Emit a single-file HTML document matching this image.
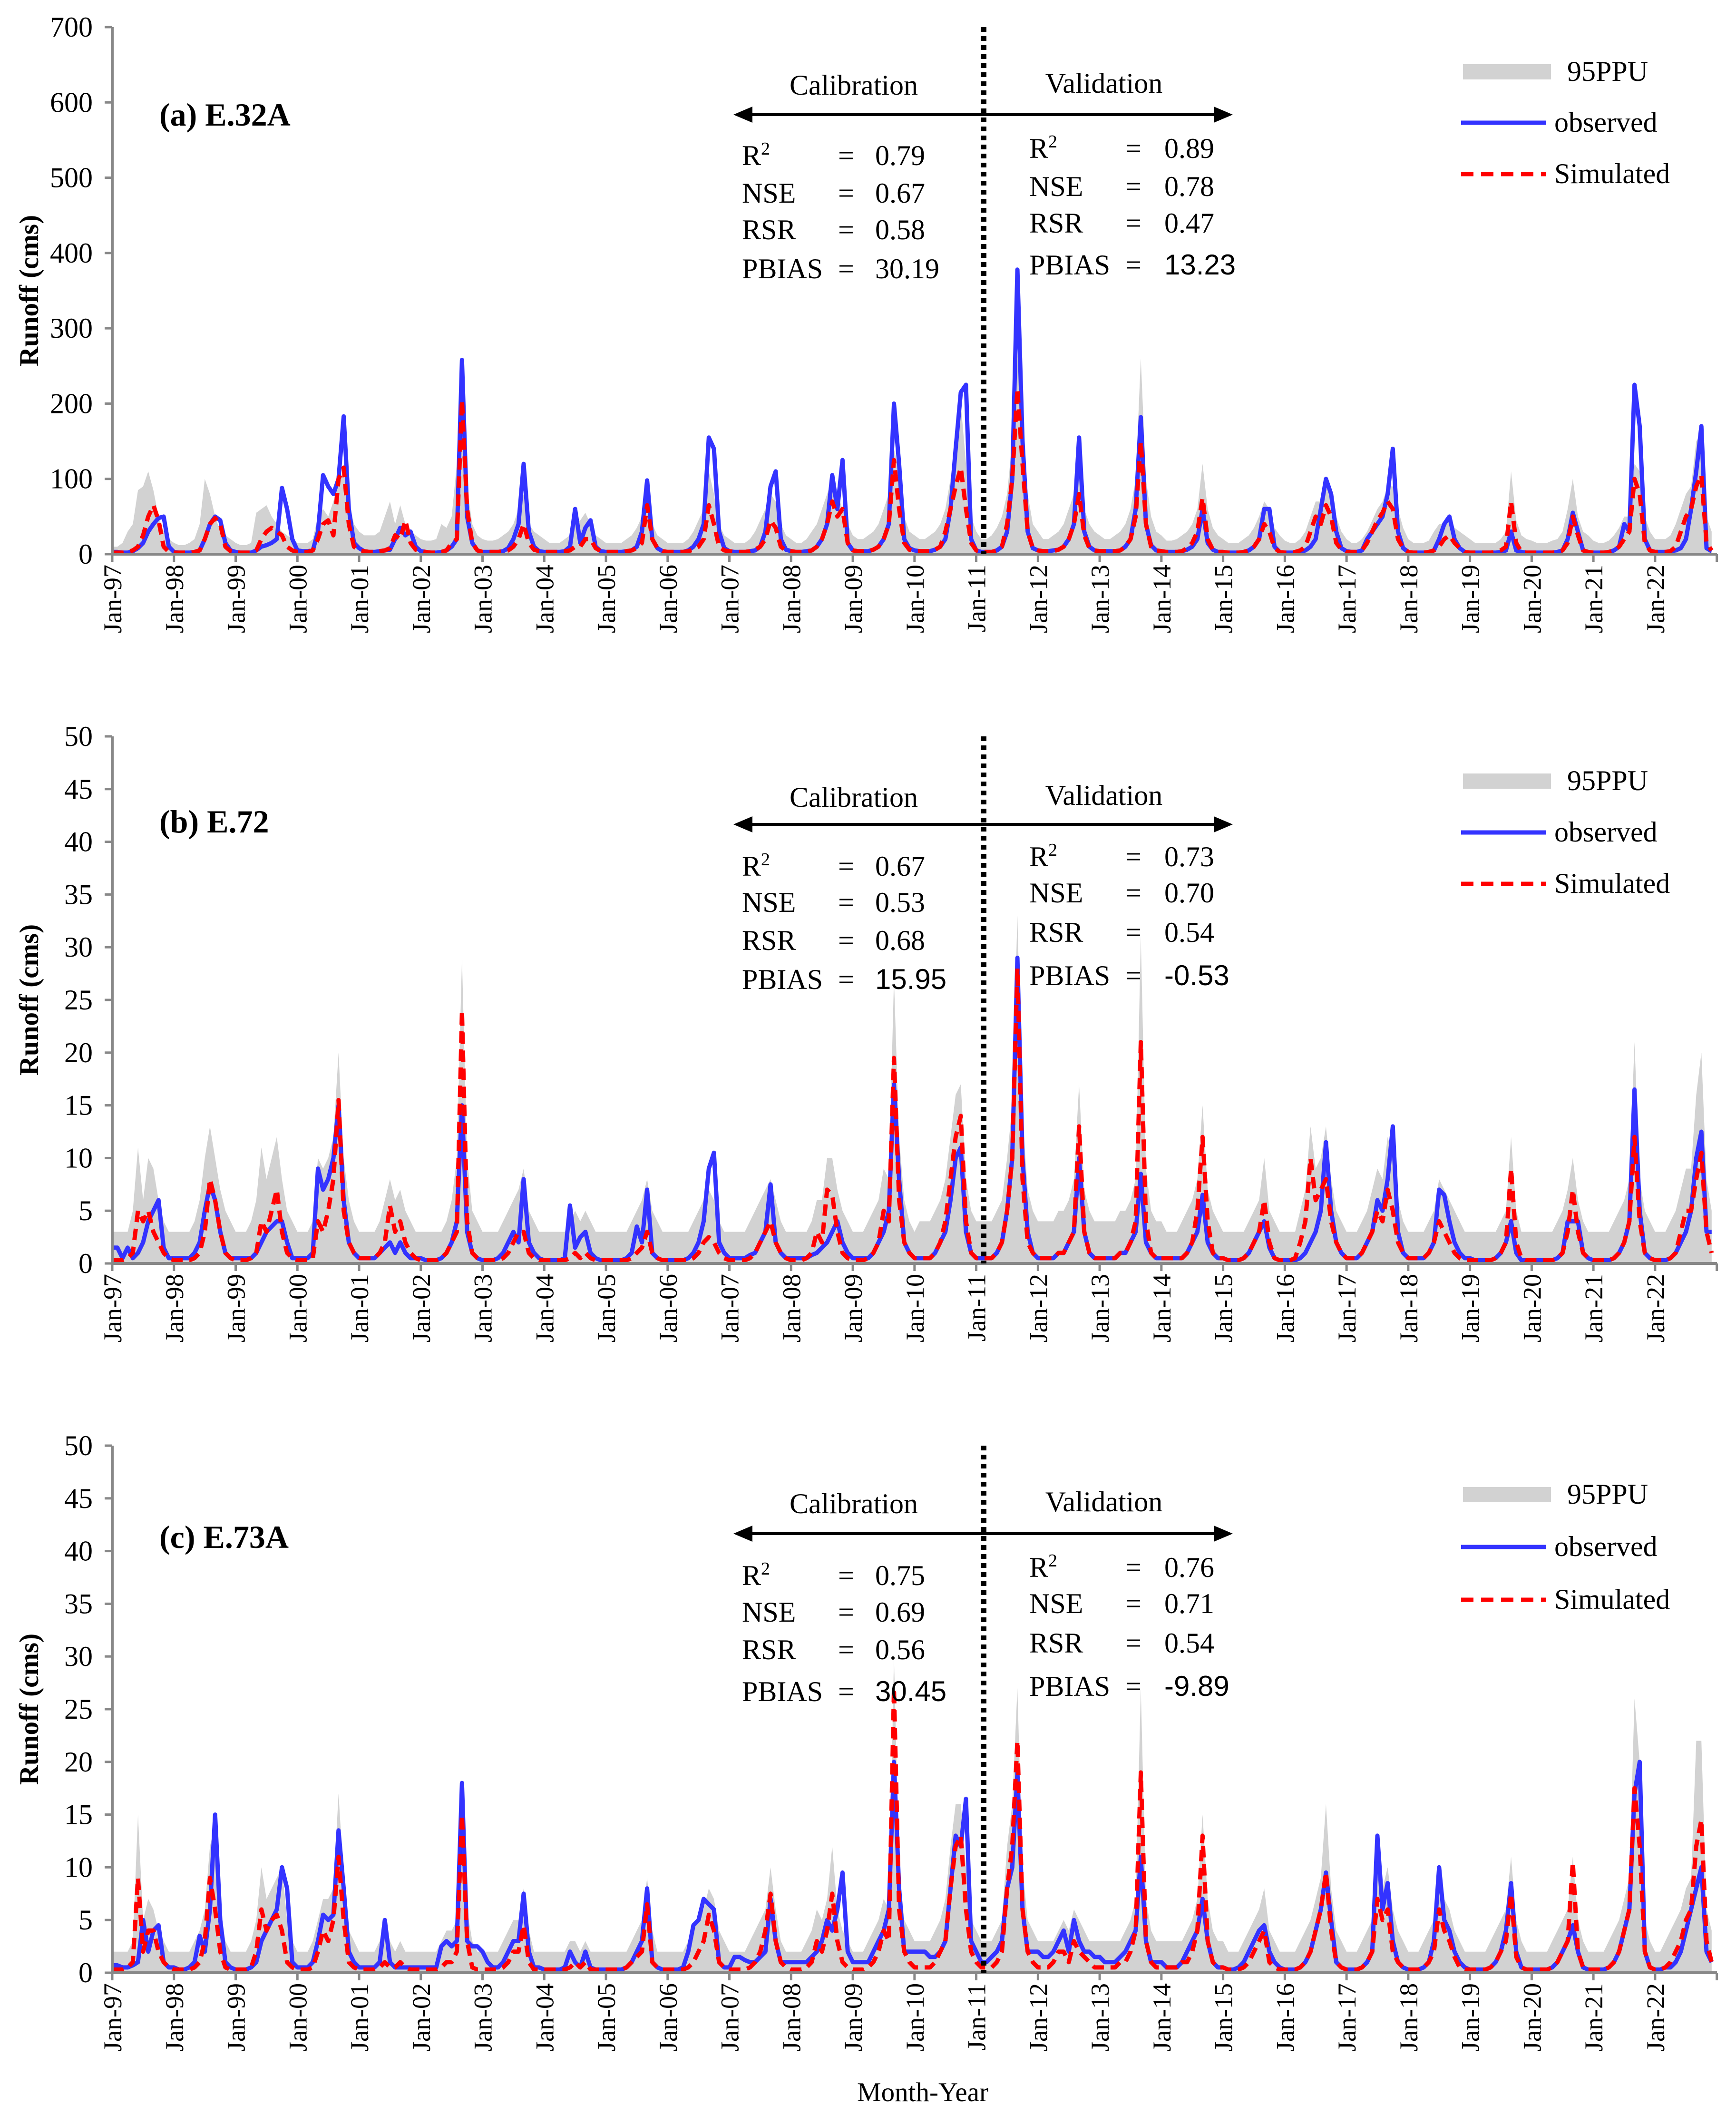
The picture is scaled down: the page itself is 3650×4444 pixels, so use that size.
<!DOCTYPE html>
<html><head><meta charset="utf-8"><style>
html,body{margin:0;padding:0;background:#fff}
svg{display:block}
text{font-family:"Liberation Serif",serif;fill:#000}
</style></head><body>
<svg id="chart" width="3650" height="4444" viewBox="0 0 3650 4444" xmlns="http://www.w3.org/2000/svg">
<text x="1940" y="4417" font-size="57" text-anchor="middle">Month-Year</text>
</svg>
<script>
// ---- data (monthly, Jan-97 .. Dec-22) ----
const yearLabels = ["Jan-97","Jan-98","Jan-99","Jan-00","Jan-01","Jan-02","Jan-03","Jan-04","Jan-05","Jan-06","Jan-07","Jan-08","Jan-09","Jan-10","Jan-11","Jan-12","Jan-13","Jan-14","Jan-15","Jan-16","Jan-17","Jan-18","Jan-19","Jan-20","Jan-21","Jan-22"];
const ticksA = [0,100,200,300,400,500,600,700];
const ticksB = [0,5,10,15,20,25,30,35,40,45,50];
const ticksC = [0,5,10,15,20,25,30,35,40,45,50];

const obsA = [3,
3,2,2,4,8,15,30,40,48,50,10,3, 2,2,2,3,5,20,40,50,45,15,5,3, 2,2,2,5,10,12,15,20,88,60,20,5,
4,4,5,30,105,90,80,100,183,60,15,8, 4,3,3,4,5,6,20,35,25,30,10,4, 3,2,2,3,5,10,20,258,50,15,5,3,
3,3,3,4,8,20,40,120,30,10,4,3, 3,3,3,4,10,60,15,35,45,10,4,3, 3,3,3,4,5,10,30,98,20,8,4,3,
3,3,3,5,10,20,40,155,140,30,8,4, 3,3,3,4,5,10,30,90,110,20,6,4, 3,3,4,5,10,20,40,105,60,125,15,5,
4,4,4,6,10,20,40,200,120,20,8,5, 4,4,4,6,10,20,60,140,215,225,20,5, 3,3,3,5,10,30,100,378,150,30,8,5,
4,4,5,6,10,20,40,155,30,10,5,4, 4,4,4,5,10,20,60,182,40,12,5,4, 3,3,3,4,6,10,20,60,15,6,3,3,
2,2,2,3,5,10,20,60,60,10,3,2, 2,2,3,5,10,20,60,100,80,30,8,4, 3,3,5,20,30,40,50,80,140,30,8,3,
2,2,2,3,5,20,40,50,20,8,3,2, 2,2,2,2,2,3,5,30,5,3,2,2, 2,2,2,2,3,5,20,55,30,5,3,2,
2,2,3,5,10,40,30,225,170,20,5,3, 3,3,4,5,8,20,60,110,170,8,4];
const simA = [2,
2,2,3,5,10,25,50,65,45,10,3,2, 2,2,2,3,5,20,40,48,40,10,4,2, 2,2,2,5,20,30,35,30,25,10,5,3,
3,3,5,20,40,45,25,100,115,40,10,5, 4,3,3,4,5,8,25,20,45,15,6,4, 3,2,2,3,5,15,20,205,60,15,5,3,
3,3,3,4,5,10,20,40,15,6,4,3, 3,3,3,4,5,10,10,20,20,8,4,3, 3,3,3,4,5,8,15,65,20,8,4,3,
3,3,3,4,6,10,20,65,40,10,5,4, 3,3,3,4,6,10,20,45,35,10,5,4, 3,3,3,5,10,20,40,70,50,60,15,5,
4,4,4,6,10,20,40,125,60,15,6,4, 4,4,4,6,10,30,60,90,115,60,15,5, 3,3,3,5,10,40,100,220,120,30,8,5,
4,4,4,6,10,20,40,80,25,8,5,4, 4,4,4,5,10,20,50,150,40,10,5,4, 3,3,3,4,8,15,30,75,20,6,3,3,
2,2,2,3,5,10,20,40,30,8,3,2, 2,3,5,10,30,50,40,65,50,15,6,3, 3,3,5,15,30,45,55,70,60,20,8,3,
2,2,2,3,5,10,20,25,15,8,3,2, 2,2,2,2,3,5,10,70,15,3,2,2, 2,2,2,2,3,5,15,50,25,5,3,2,
2,2,3,5,10,20,30,100,80,15,5,3, 3,3,4,10,30,50,60,90,105,15,5];
const upperA = [10,
10,15,30,40,85,90,110,85,50,30,20,15, 12,12,15,20,40,100,80,50,30,25,20,15, 12,12,15,55,60,65,50,40,30,25,20,15,
15,15,20,50,60,50,70,100,110,70,40,30, 25,25,25,30,50,70,40,65,40,30,25,20, 18,18,20,40,35,50,120,200,90,40,25,20,
18,18,20,25,30,40,60,80,40,30,25,20, 15,15,15,20,25,40,45,55,40,25,20,15, 15,15,15,20,25,35,50,95,40,25,20,15,
15,15,15,20,30,45,60,110,80,40,25,20, 15,15,15,20,30,45,60,80,70,40,25,20, 15,15,20,30,40,60,80,100,80,60,40,25,
20,20,25,30,40,60,80,140,110,50,30,25, 20,20,25,30,40,60,100,150,200,120,50,30, 20,20,25,35,50,80,150,270,180,80,40,30,
20,20,25,30,40,60,80,120,60,40,30,25, 20,20,25,30,40,60,100,260,100,50,30,25, 18,18,20,25,30,40,60,120,60,35,25,20,
15,15,15,20,25,35,50,70,60,35,25,18, 15,15,20,30,50,70,70,90,80,50,30,20, 15,15,20,30,45,60,70,90,90,60,35,20,
15,15,15,18,30,40,40,45,35,30,25,20, 15,15,15,15,15,20,30,110,45,25,20,18, 15,15,15,18,20,30,60,100,50,30,25,18,
15,15,18,25,35,50,50,120,110,50,30,20, 20,20,25,40,60,80,90,150,160,50,30];

const obsB = [1.5,
1.5,0.5,1.5,0.5,1,2,4,5,6,1.5,0.5,0.5, 0.5,0.5,0.5,1,2,5,7.5,6,3,1,0.5,0.5, 0.5,0.5,0.5,1,2,3,3.5,4,4,2,0.5,0.5,
0.5,0.5,1,9,7,8,10,15,6,2,1,0.5, 0.5,0.5,0.5,1,1.5,2,1,2,1,0.5,0.5,0.5, 0.3,0.3,0.3,0.5,1,2,4,15,3,1,0.5,0.3,
0.3,0.3,0.5,1,2,3,2,8,2,1,0.5,0.3, 0.3,0.3,0.3,0.5,5.5,1.5,2.5,3,1,0.5,0.3,0.3, 0.3,0.3,0.3,0.5,1,3.5,2,7,1,0.5,0.3,0.3,
0.3,0.3,0.3,0.5,1,2,4,9,10.5,2,1,0.5, 0.5,0.5,0.5,0.8,1,2,3,7.5,2,1,0.5,0.5, 0.5,0.5,0.5,0.8,1,1.5,2,3,4,2,1,0.5,
0.5,0.5,0.5,1,2,3,5,17,8,2,1,0.5, 0.5,0.5,0.5,1,2,3,6,10,11,3,1,0.5, 0.5,0.5,0.5,1,2,5,10,29,10,3,1,0.5,
0.5,0.5,0.5,1,1,2,3,10,3,1,0.5,0.5, 0.5,0.5,0.5,1,1,2,3,8.5,2,1,0.5,0.5, 0.5,0.5,0.5,0.5,1,2,3,6.5,2,1,0.5,0.5,
0.3,0.3,0.3,0.5,1,2,3,4,1.5,0.5,0.3,0.3, 0.3,0.3,0.5,1,2,3,5,11.5,5,2,1,0.5, 0.5,0.5,1,2,3,6,5,8,13,3,1,0.5,
0.5,0.5,0.5,1,2,7,6.5,4,2,1,0.5,0.5, 0.3,0.3,0.3,0.3,0.5,1,2,4,1,0.3,0.3,0.3, 0.3,0.3,0.3,0.3,0.5,1,4,4,4,1,0.5,0.3,
0.3,0.3,0.3,0.5,1,2,4,16.5,5,1,0.5,0.3, 0.3,0.3,0.5,1,2,3,5,10,12.5,3,3];
const simB = [0.3,
0.3,0.3,0.5,1,5,4,5,3,2,1,0.5,0.3, 0.3,0.3,0.3,0.5,1,3,8,6,3,1,0.5,0.3, 0.3,0.3,0.5,1,4,3,5,7,3,1,0.5,0.3,
0.3,0.3,0.5,4,3,5,8,15.5,5,2,1,0.5, 0.5,0.5,0.5,1,2,5.5,3,4,2,1,0.5,0.3, 0.3,0.3,0.3,0.5,1,2,3,24,4,1,0.5,0.3,
0.3,0.3,0.3,0.5,1,2,3,3,1,0.5,0.3,0.3, 0.3,0.3,0.3,0.3,0.5,1,0.5,1,0.5,0.3,0.3,0.3, 0.3,0.3,0.3,0.3,0.5,1,1.5,3,1,0.5,0.3,0.3,
0.3,0.3,0.3,0.3,0.5,1,2,2.5,2,1,0.5,0.3, 0.3,0.3,0.3,0.5,1,2,3,4,2,1,0.5,0.3, 0.3,0.3,0.5,1,3,2,7,6.5,3,1,0.5,0.3,
0.3,0.3,0.5,1,2,5,4,19.5,6,2,1,0.5, 0.5,0.5,0.5,1,2,4,8,12,14,4,1,0.5, 0.5,0.5,0.5,1,2,5,10,28,8,2,1,0.5,
0.5,0.5,0.5,1,1,2,3,13,3,1,0.5,0.5, 0.5,0.5,0.5,1,1,2,4,21,4,1,0.5,0.5, 0.5,0.5,0.5,0.5,1,2,5,12,4,1,0.5,0.5,
0.3,0.3,0.3,0.5,1,2,3,6,2,0.5,0.3,0.3, 0.3,0.5,2,4,10,6,7,8,4,2,1,0.5, 0.5,0.5,1,2,3,5,4,7,5,2,1,0.5,
0.5,0.5,0.5,1,2,4,3,2,1,0.5,0.3,0.3, 0.3,0.3,0.3,0.3,0.5,1,2,9,2,0.5,0.3,0.3, 0.3,0.3,0.3,0.3,0.5,1,3,7,3,1,0.5,0.3,
0.3,0.3,0.3,0.5,1,2,4,12,4,1,0.5,0.3, 0.3,0.3,0.5,1,3,5,5,8,10.5,3,1];
const upperB = [3,
3,3,3,5,11,6,10,9,6,4,3,3, 3,3,3,4,6,10,13,10,7,5,4,3, 3,3,4,6,11,8,10,12,8,5,4,3,
3,3,4,10,9,10,12,20,10,6,4,3, 3,3,3,4,6,8,6,7,5,4,3,3, 3,3,3,3,4,6,10,29,10,5,4,3,
3,3,3,4,5,6,7,9,5,4,3,3, 3,3,3,3,4,5,4,5,4,3,3,3, 3,3,3,3,4,5,6,8,5,4,3,3,
3,3,3,3,4,5,6,7,6,4,3,3, 3,3,3,4,5,6,7,8,6,4,3,3, 3,3,3,4,6,6,10,10,7,5,4,3,
3,3,4,5,6,9,8,27,12,6,4,3, 4,4,4,5,6,8,12,16,17,8,5,4, 4,4,4,5,6,10,15,33,14,7,5,4,
4,4,4,5,5,6,8,17,7,5,4,4, 4,4,4,5,5,6,8,31,9,5,4,4, 3,3,3,4,5,6,8,15,7,5,4,3,
3,3,3,3,4,5,6,10,5,4,3,3, 3,3,5,7,13,9,10,13,8,5,4,3, 3,3,4,5,7,9,8,12,10,6,4,3,
3,3,3,4,5,8,7,6,5,4,3,3, 3,3,3,3,3,4,5,12,5,3,3,3, 3,3,3,3,4,5,7,10,6,4,3,3,
3,3,3,4,5,6,8,21,8,5,4,3, 3,3,4,5,7,9,9,16,20,8,5];

const obsC = [0.7,
0.7,0.5,0.5,0.7,1,5,2,4,4.5,1,0.5,0.5, 0.3,0.3,0.5,1,3.5,2,6,15,5,1,0.5,0.3, 0.3,0.3,0.5,1,3,4,5,6,10,8,1,0.5,
0.5,0.5,1,3,5.5,5,5.5,13.5,8,2,1,0.5, 0.5,0.5,0.5,1,5,1,0.5,0.5,0.5,0.5,0.5,0.5, 0.5,0.5,0.5,2.5,3,2.5,3,18,3,2.5,2.5,2,
1,0.5,0.5,1,2,3,3,7.5,2,0.5,0.5,0.3, 0.3,0.3,0.3,0.5,2,1,0.5,2,0.5,0.3,0.3,0.3, 0.3,0.3,0.3,0.5,1,2,3,8,1,0.5,0.3,0.3,
0.3,0.3,0.5,2,4.5,5,7,6.5,6,1,0.5,0.5, 1.5,1.5,1.2,1,1,1.5,2,7,3,1,1,1, 1,1,1,1.5,2,3,5,4,6,9.5,2,1,
1,1,1,2,3,4,6,20,8,2,2,2, 2,2,1.5,1.5,2,3,8,13,12,16.5,3,2, 1,1,1.5,2,3,8,10,19,6,2,2,2,
1.5,1.5,2,3,4,2,5,3,2,2,1.5,1.5, 1,1,1,1.5,2,3,4,11,3,1,1,1, 0.5,0.5,0.5,1,2,3,4,7,3,1,0.5,0.5,
0.3,0.3,0.5,1,2,3,4,4.5,2,1,0.5,0.3, 0.3,0.3,0.5,1,2,4,6,9.5,5,1,0.5,0.3, 0.3,0.3,0.5,1,2,13,6,8.5,3,1,0.5,0.3,
0.3,0.3,0.5,1,3,10,5,4,2,1,0.5,0.3, 0.3,0.3,0.3,0.5,1,2,4,8.5,2,0.5,0.3,0.3, 0.3,0.3,0.3,0.5,1,2,3,4.5,2,0.5,0.3,0.3,
0.3,0.3,0.5,1,2,4,6,17,20,2,0.5,0.3, 0.3,0.5,0.5,1,2,4,6,8,10,2,1];
const simC = [0.3,
0.3,0.3,0.5,1,9,2,4,4,2,1,0.5,0.3, 0.3,0.3,0.3,0.5,1,3,9,6,2,0.5,0.3,0.3, 0.3,0.3,0.5,2,6,4,5,5.5,4,1,0.5,0.3,
0.3,0.3,0.5,2,4,3,5,11,5,1,0.5,0.3, 0.3,0.3,0.3,0.5,1,0.5,0.5,1,0.5,0.3,0.3,0.3, 0.3,0.3,0.3,0.5,1,1,2,15,3,0.5,0.3,0.3,
0.3,0.3,0.3,0.5,1,2,2,4.5,1,0.3,0.3,0.3, 0.3,0.3,0.3,0.3,0.5,1,0.5,1,0.3,0.3,0.3,0.3, 0.3,0.3,0.3,0.5,1,1.5,2,6.5,1,0.5,0.3,0.3,
0.3,0.3,0.3,0.5,1,2,3,5.5,4,1,0.5,0.3, 0.3,0.3,0.3,0.5,1,2,4,7.5,3,1,0.5,0.3, 0.3,0.3,0.5,1,3,2,4,7.5,3,1,0.5,0.3,
0.3,0.3,0.5,1,2,4,3,27,6,2,1,0.5, 0.5,0.5,0.5,1,2,3,8,12,13,6,2,1, 0.5,0.5,0.5,1,2,8,12,22,6,2,1,0.5,
0.5,0.5,1,2,2,1,3,2,1.5,1,0.5,0.5, 0.5,0.5,0.5,1,1,2,4,19,3,1,0.5,0.5, 0.5,0.5,0.5,1,1,2,4,13,3,1,0.5,0.5,
0.3,0.3,0.3,0.5,1,2,3,4,1,0.5,0.3,0.3, 0.3,0.3,0.5,1,2,4,6,9.5,4,1,0.5,0.3, 0.3,0.3,0.5,1,2,7,5,6,2,1,0.5,0.3,
0.3,0.3,0.5,1,2,6,4,3,1.5,0.5,0.3,0.3, 0.3,0.3,0.3,0.5,1,2,3,7.5,1.5,0.5,0.3,0.3, 0.3,0.3,0.3,0.5,1,2,3,10.5,2,0.5,0.3,0.3,
0.3,0.3,0.5,1,2,4,6,17.5,12,2,0.5,0.3, 0.3,0.5,1,2,3,5,6,12,14.5,3,1];
const upperC = [2,
2,2,2,3,15,5,7,6,4,3,2,2, 2,2,2,3,4,6,12,14,6,3,2,2, 2,2,3,5,10,7,8,9,10,5,3,2,
2,2,3,5,7,7,8,17,9,4,3,2, 2,2,2,3,5,3,2,3,2,2,2,2, 2,2,2,3,4,4,5,17,6,3,2,2,
2,2,2,3,4,5,5,8,4,2,2,2, 2,2,2,2,3,3,2,3,2,2,2,2, 2,2,2,2,3,4,5,9,4,2,2,2,
2,2,2,3,4,5,6,8,7,4,3,2, 2,2,2,3,4,5,6,10,6,3,2,2, 2,2,3,4,6,5,7,12,6,4,3,2,
2,2,3,4,5,7,6,30,10,5,4,3, 3,3,3,4,5,7,12,16,16,10,5,4, 3,3,3,4,5,12,16,27,10,5,4,3,
3,3,3,4,5,4,6,5,4,3,3,3, 3,3,3,3,4,5,7,27,7,4,3,3, 3,3,3,3,4,5,7,15,7,4,3,3,
2,2,2,3,4,5,6,8,4,3,2,2, 2,2,3,4,5,7,9,16,8,4,3,2, 2,2,3,4,5,10,8,10,6,4,3,2,
2,2,3,4,5,9,7,6,4,3,2,2, 2,2,2,3,4,5,6,11,5,3,2,2, 2,2,2,3,4,5,6,11,5,3,2,2,
2,2,3,4,5,7,9,26,20,5,3,2, 2,3,4,5,6,8,9,22,22,6,4];

const statsA = [["R²","0.79","0.89"],["NSE","0.67","0.78"],["RSR","0.58","0.47"],["PBIAS","30.19","13.23"]];
const statsB = [["R²","0.67","0.73"],["NSE","0.53","0.70"],["RSR","0.68","0.54"],["PBIAS","15.95","-0.53"]];
const statsC = [["R²","0.75","0.76"],["NSE","0.69","0.71"],["RSR","0.56","0.54"],["PBIAS","30.45","-9.89"]];

const NS = "http://www.w3.org/2000/svg";
const svg = document.getElementById("chart");
function mk(tag, attrs, parent, txt){
  const e = document.createElementNS(NS, tag);
  for (const k in attrs) e.setAttribute(k, attrs[k]);
  if (txt !== undefined) e.textContent = txt;
  (parent || svg).appendChild(e);
  return e;
}
const X0 = 236, MW = 10.813, XEND = 3610;
function xScale(i){ return X0 + i * MW; }

function panel(cfg){
  const g = mk("g", {});
  
  
  const top = cfg.top, zero = cfg.zero, ymax = cfg.ymax;
  const yS = v => zero - (v / ymax) * (zero - top);

  let d = "M" + xScale(0) + "," + zero;
  cfg.upper.forEach((v,i)=>{ d += " L" + xScale(i).toFixed(1) + "," + yS(v).toFixed(1); });
  d += " L" + xScale(cfg.upper.length-1) + "," + zero + " Z";
  const band = mk("path", {d: d, fill: "#d2d2d2", stroke: "none"}, g);
  
  

  let po = "";
  cfg.obs.forEach((v,i)=>{ po += (i? " L":"M") + xScale(i).toFixed(1) + "," + yS(v).toFixed(1); });
  const ol = mk("path", {d: po, fill: "none", stroke: "#3333ff", "stroke-width": 9, "stroke-linejoin": "round"}, g);
  
  

  let ps = "";
  cfg.sim.forEach((v,i)=>{ ps += (i? " L":"M") + xScale(i).toFixed(1) + "," + yS(v).toFixed(1); });
  const sl = mk("path", {d: ps, fill: "none", stroke: "#ff0000", "stroke-width": 9, "stroke-dasharray": "24,14", "stroke-linejoin": "round"}, g);
  
  

  const ya = mk("line", {x1: X0, y1: top, x2: X0, y2: zero, stroke: "#888", "stroke-width": 6}, g);
  
  
  const xa = mk("line", {x1: X0, y1: zero, x2: XEND, y2: zero, stroke: "#888", "stroke-width": 6}, g);
  
  

  cfg.ticks.forEach(t=>{
    const y = yS(t);
    mk("line", {x1: X0-16, y1: y, x2: X0, y2: y, stroke: "#888", "stroke-width": 5}, g);
    const tl = mk("text", {x: 195, y: y + 20, "font-size": 60, "text-anchor": "end"}, g, String(t));
    
    
  });
  for (let k = 0; k <= yearLabels.length; k++){
    const x = xScale(k*12);
    mk("line", {x1: x, y1: zero, x2: x, y2: zero+16, stroke: "#888", "stroke-width": 5}, g);
    if (k < yearLabels.length){
      const lb = mk("text", {x: 0, y: 0, "font-size": 54, "text-anchor": "end", transform: "translate(" + (x+19) + "," + (zero+22) + ") rotate(-90)"}, g, yearLabels[k]);
      
      
    }
  }

  const yt = mk("text", {x: 0, y: 0, "font-size": 57, "font-weight": "bold", "text-anchor": "middle", transform: "translate(80," + ((top+zero)/2) + ") rotate(-90)"}, g, "Runoff (cms)");
  
  

  const dv = mk("line", {x1: 2068, y1: top, x2: 2068, y2: zero, stroke: "#000", "stroke-width": 12, "stroke-dasharray": "10,9"}, g);
  
  

  const tt = mk("text", {x: 335, y: cfg.titleY, "font-size": 68, "font-weight": "bold"}, g, cfg.title);
  
  

  const cl = mk("text", {x: 1795, y: cfg.calY, "font-size": 60, "text-anchor": "middle"}, g, "Calibration");
  
  
  const vl = mk("text", {x: 2321, y: cfg.calY - 4, "font-size": 60, "text-anchor": "middle"}, g, "Validation");
  
  
  const ay = cfg.arrowY;
  const ar = mk("g", {}, g);
  
  
  mk("line", {x1: 1570, y1: ay, x2: 2565, y2: ay, stroke: "#000", "stroke-width": 6}, ar);
  mk("polygon", {points: "1542," + ay + " 1582," + (ay-17) + " 1582," + (ay+17), fill: "#000"}, ar);
  mk("polygon", {points: "2592," + ay + " 2552," + (ay-17) + " 2552," + (ay+17), fill: "#000"}, ar);

  cfg.stats.forEach((s,i)=>{
    const yl = cfg.leftRows[i], yr = cfg.rightRows[i];
    const lab = s[0] === "R²" ? "R<tspan font-size='38' dy='-22'>2</tspan>" : s[0];
    const t1 = mk("text", {x: 1560, y: yl, "font-size": 60}, g); t1.innerHTML = lab;
    
    
    mk("text", {x: 1762, y: yl, "font-size": 60}, g, "=");
    const sansL = (s[0]==="PBIAS" && cfg.sansLeft);
    const v1 = mk("text", {x: 1840, y: yl, "font-size": 60, style: sansL ? "font-family:'Liberation Sans',sans-serif" : ""}, g, s[1]);
    
    
    const t2 = mk("text", {x: 2164, y: yr, "font-size": 60}, g); t2.innerHTML = lab;
    
    
    mk("text", {x: 2366, y: yr, "font-size": 60}, g, "=");
    const sansR = (s[0]==="PBIAS");
    const v2 = mk("text", {x: 2448, y: yr, "font-size": 60, style: sansR ? "font-family:'Liberation Sans',sans-serif" : ""}, g, s[2]);
    
    
  });

  const lg = mk("g", {}, g);
  
  
  const L = cfg.legY;
  const e1 = mk("g", {}, lg);
  
  
  mk("rect", {x: 3076, y: L[0]-16, width: 185, height: 32, fill: "#d2d2d2"}, e1);
  mk("text", {x: 3295, y: L[0]+19, "font-size": 60}, e1, "95PPU");
  const e2 = mk("g", {}, lg);
  
  
  mk("line", {x1: 3072, y1: L[1], x2: 3250, y2: L[1], stroke: "#3333ff", "stroke-width": 9}, e2);
  mk("text", {x: 3268, y: L[1]+19, "font-size": 60}, e2, "observed");
  const e3 = mk("g", {}, lg);
  
  
  mk("line", {x1: 3072, y1: L[2], x2: 3250, y2: L[2], stroke: "#ff0000", "stroke-width": 9, "stroke-dasharray": "26,16"}, e3);
  mk("text", {x: 3268, y: L[2]+19, "font-size": 60}, e3, "Simulated");
}

panel({key:"panel-a", top:57, zero:1165, ymax:700, ticks:ticksA, obs:obsA, sim:simA, upper:upperA,
  title:"(a) E.32A", titleY:264, calY:199, arrowY:241, stats:statsA, sansLeft:false,
  leftRows:[347,426,503,585], rightRows:[332,412,489,577], legY:[151,258,366]});
panel({key:"panel-b", top:1548, zero:2656, ymax:50, ticks:ticksB, obs:obsB, sim:simB, upper:upperB,
  title:"(b) E.72", titleY:1750, calY:1696, arrowY:1733, stats:statsB, sansLeft:true,
  leftRows:[1841,1917,1997,2079], rightRows:[1821,1897,1980,2071], legY:[1642,1750,1858]});
panel({key:"panel-c", top:3039, zero:4147, ymax:50, ticks:ticksC, obs:obsC, sim:simC, upper:upperC,
  title:"(c) E.73A", titleY:3254, calY:3181, arrowY:3224, stats:statsC, sansLeft:true,
  leftRows:[3332,3409,3488,3576], rightRows:[3315,3391,3474,3565], legY:[3142,3252,3363]});
</script>
</body></html>
